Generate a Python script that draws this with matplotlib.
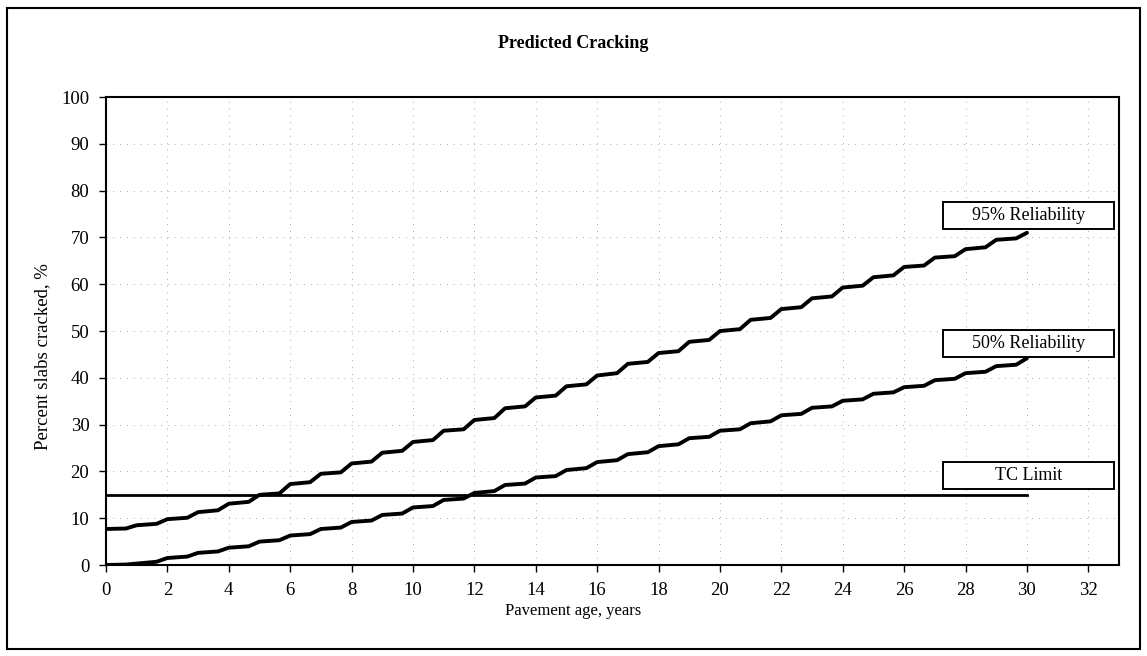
import numpy as np
import matplotlib.pyplot as plt
from matplotlib.patches import Rectangle

plt.rcParams['font.family'] = ['Liberation Serif', 'DejaVu Serif']

# values (percent slabs cracked)
years = list(range(31))
rel95_at_year = [7.7, 8.5, 9.8, 11.3, 13.1, 15.0, 17.3, 19.5, 21.7, 24.0,
                 26.3, 28.7, 31.0, 33.5, 35.8, 38.2, 40.5, 43.0, 45.3, 47.7,
                 50.0, 52.4, 54.7, 57.0, 59.3, 61.5, 63.7, 65.7, 67.5, 69.5, 71.0]
rel95_plateau = [7.8, 8.8, 10.1, 11.7, 13.5, 15.3, 17.7, 19.8, 22.1, 24.4,
                 26.7, 29.0, 31.4, 33.9, 36.2, 38.6, 41.0, 43.4, 45.7, 48.1,
                 50.4, 52.8, 55.1, 57.4, 59.7, 61.9, 64.0, 66.0, 67.9, 69.8]
rel50_at_year = [0.0, 0.3, 1.5, 2.6, 3.7, 5.0, 6.3, 7.7, 9.2, 10.7,
                 12.3, 13.9, 15.4, 17.1, 18.7, 20.3, 22.0, 23.7, 25.4, 27.1,
                 28.7, 30.3, 32.0, 33.6, 35.1, 36.6, 38.0, 39.5, 41.0, 42.5, 44.2]
rel50_plateau = [0.1, 0.7, 1.8, 2.9, 4.0, 5.3, 6.6, 8.0, 9.5, 11.0,
                 12.6, 14.2, 15.8, 17.4, 19.0, 20.7, 22.4, 24.1, 25.8, 27.4,
                 29.0, 30.7, 32.3, 33.9, 35.4, 36.9, 38.3, 39.8, 41.3, 42.8]
tc_limit = 15
labels = ['95% Reliability', '50% Reliability', 'TC Limit']
label_bottom = [71.8, 44.4, 16.2]


def stepped(at_year, plateau):
    xs, ys = [], []
    for i in range(len(plateau)):
        xs += [years[i], years[i] + 0.65]
        ys += [at_year[i], plateau[i]]
    xs.append(years[-1])
    ys.append(at_year[-1])
    return xs, ys


fig = plt.figure(figsize=(11.47, 6.56), dpi=100)
fig.patches.append(Rectangle((0.006, 0.01), 0.988, 0.978, transform=fig.transFigure,
                             fill=False, edgecolor='black', linewidth=1.5))
ax = fig.add_axes([0.0924, 0.1387, 0.8832, 0.7133])

x95, y95 = stepped(rel95_at_year, rel95_plateau)
x50, y50 = stepped(rel50_at_year, rel50_plateau)
ax.plot(x95, y95, color='black', linewidth=2.8, solid_capstyle='round')
ax.plot(x50, y50, color='black', linewidth=2.8, solid_capstyle='round')
ax.plot([0, 30], [tc_limit, tc_limit], color='black', linewidth=2.0)

# label boxes, fixed width like the original
box_x0, box_w, box_h = 27.25, 5.6, 5.8
for lab, yb in zip(labels, label_bottom):
    ax.add_patch(Rectangle((box_x0, yb), box_w, box_h, facecolor='white',
                           edgecolor='black', linewidth=1.4, zorder=5))
    ax.text(box_x0 + box_w / 2, yb + box_h / 2, lab, ha='center', va='center',
            fontsize=13, zorder=6)

ax.set_xlim(0, 33)
ax.set_ylim(0, 100)
ax.set_xticks(range(0, 33, 2))
ax.set_yticks(range(0, 101, 10))
ax.tick_params(direction='out', length=5, width=1, labelsize=13.5)
ax.tick_params(axis='x', pad=7)
ax.tick_params(axis='y', pad=7)
ax.grid(True, color='#aaaaaa', linestyle=(0, (1, 6)), linewidth=0.7)
for s in ax.spines.values():
    s.set_linewidth(1.5)

fig.text(0.5, 0.934, 'Predicted Cracking', ha='center', va='center',
         fontsize=13, fontweight='bold')
fig.text(0.5, 0.068, 'Pavement age, years', ha='center', va='center', fontsize=12)
fig.text(0.037, 0.456, 'Percent slabs cracked, %', ha='center', va='center',
         fontsize=13.5, rotation=90)

fig.savefig('out.png', dpi=100)
